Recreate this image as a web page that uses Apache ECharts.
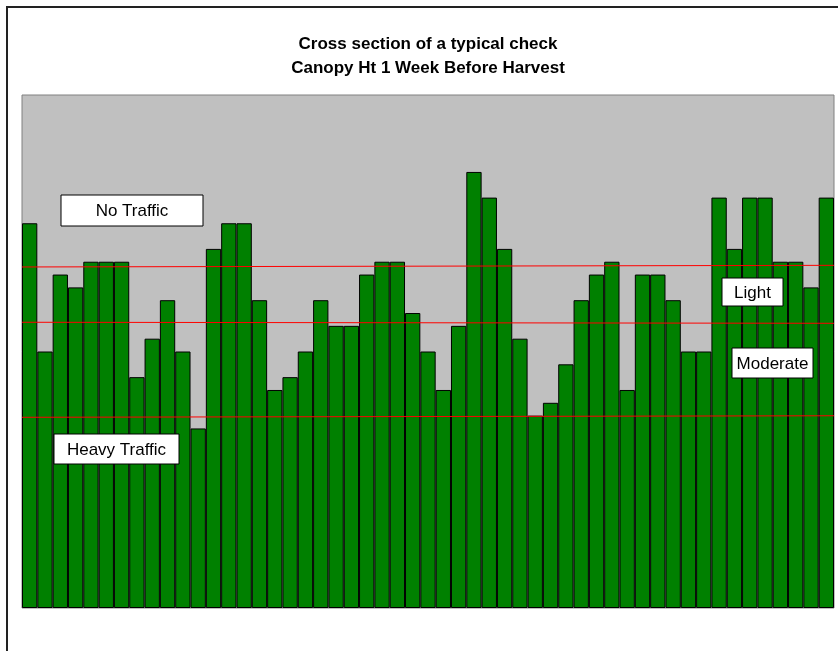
<!DOCTYPE html>
<html>
<head>
<meta charset="utf-8">
<script src="https://cdn.jsdelivr.net/npm/echarts@6/dist/echarts.min.js"></script>
<style>
html,body{margin:0;padding:0;background:#fff;}
#chart{width:838px;height:651px;}
</style>
</head>
<body>
<div id="chart"></div>
<script>
// Canopy height per position across the check (53 positions)
const positions = Array.from({length: 53}, (_, i) => String(i + 1));
const canopyHeight = [
  30, 20, 26, 25, 27, 27, 27, 18, 21, 24, 20, 14, 28, 30, 30, 24, 17,
  18, 20, 24, 22, 22, 26, 27, 27, 23, 20, 17, 22, 34, 32, 28, 21, 15, 16,
  19, 24, 26, 27, 17, 26, 26, 24, 20, 20, 32, 28, 32, 32, 27, 27, 25, 32
];
// Hand-drawn red threshold lines: [startValue, endValue] across the plot
const lightLine = [26.59, 26.72];
const moderateLine = [22.28, 22.20];
const heavyLine = [14.87, 14.99];
const titleLines = ['Cross section of a typical check', 'Canopy Ht 1 Week Before Harvest'];
const labels = ['No Traffic', 'Light', 'Moderate', 'Heavy Traffic'];

const chart = echarts.init(document.getElementById('chart'), null, {renderer: 'canvas'});
const FONT = '"Liberation Sans", Arial, sans-serif';

function lineSeries(name, vals) {
  return {
    name: name, type: 'line', xAxisIndex: 1, yAxisIndex: 0,
    data: [[0, vals[0]], [positions.length, vals[1]]],
    symbol: 'none', silent: true, z: 5,
    lineStyle: {color: '#ff0000', width: 1}
  };
}

function box(x, y, w, h, text) {
  return [
    {type: 'rect', z: 100, shape: {x: x, y: y, width: w, height: h},
     style: {fill: '#fff', stroke: '#000', lineWidth: 1}},
    {type: 'text', z: 101, x: x + w / 2, y: y + h / 2 + 1,
     style: {text: text, fill: '#000', font: '17px ' + FONT, textAlign: 'center', textVerticalAlign: 'middle'}}
  ];
}

chart.setOption({
  animation: false,
  backgroundColor: '#fff',
  title: {
    text: titleLines.join('\n'),
    left: 423, top: 27, textAlign: 'center',
    textStyle: {fontFamily: FONT, fontSize: 17, fontWeight: 'bold', color: '#000', lineHeight: 24}
  },
  grid: {
    left: 22, top: 95, right: 4, bottom: 43,
    show: true, backgroundColor: '#c0c0c0', borderColor: '#808080', borderWidth: 1
  },
  xAxis: [
    {type: 'category', data: positions, show: false, boundaryGap: true},
    {type: 'value', min: 0, max: positions.length, show: false}
  ],
  yAxis: {type: 'value', min: 0, max: 40, show: false},
  series: [
    {
      type: 'bar', data: canopyHeight, barCategoryGap: '0%', z: 2,
      itemStyle: {color: '#008000', borderColor: '#000', borderWidth: 1}
    },
    lineSeries('light', lightLine),
    lineSeries('moderate', moderateLine),
    lineSeries('heavy', heavyLine)
  ],
  graphic: {
    z: 100,
    elements: [
      {type: 'rect', z: 0, shape: {x: 7, y: 7, width: 900, height: 700},
       style: {fill: 'none', stroke: '#222', lineWidth: 2}}
    ].concat(
      box(61, 195, 142, 31, labels[0]),
      box(722, 278, 61, 28, labels[1]),
      box(732, 348, 81, 30, labels[2]),
      box(54, 434, 125, 30, labels[3])
    )
  }
});
</script>
</body>
</html>
